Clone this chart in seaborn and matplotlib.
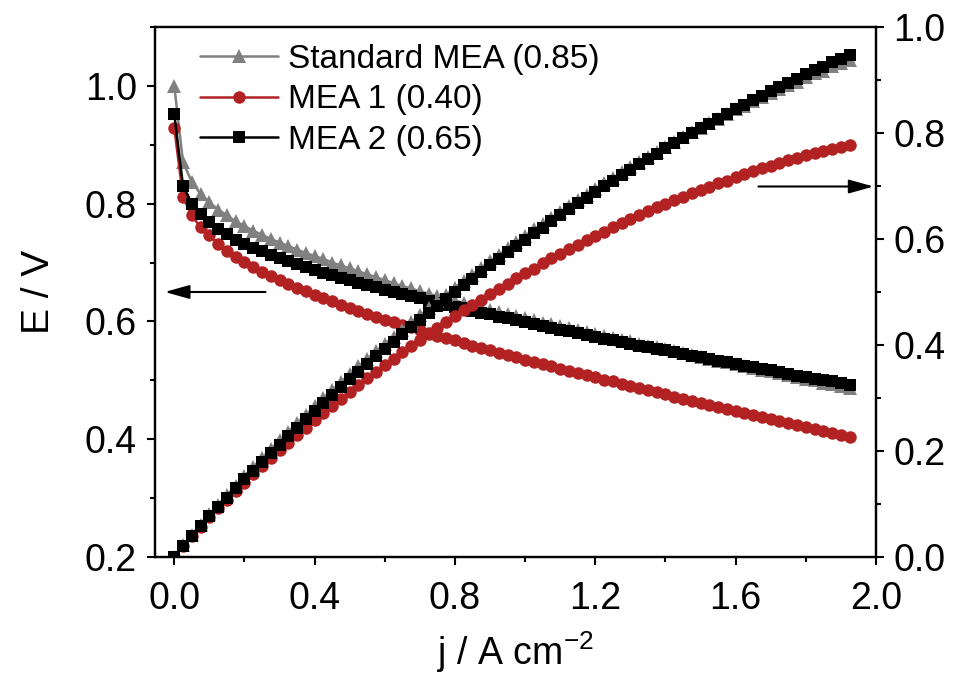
import matplotlib
matplotlib.use("Agg")
import matplotlib.pyplot as plt
from matplotlib.ticker import MultipleLocator
import pandas as pd
import seaborn as sns

# Current density grid (A cm^-2)
current_density = [
    0.000, 0.025, 0.050, 0.075, 0.100, 0.125, 0.150, 0.175, 0.200, 0.225,
    0.250, 0.275, 0.300, 0.325, 0.350, 0.375, 0.400, 0.425, 0.450, 0.475,
    0.500, 0.525, 0.550, 0.575, 0.600, 0.625, 0.650, 0.675, 0.700, 0.725,
    0.750, 0.775, 0.800, 0.825, 0.850, 0.875, 0.900, 0.925, 0.950, 0.975,
    1.000, 1.025, 1.050, 1.075, 1.100, 1.125, 1.150, 1.175, 1.200, 1.225,
    1.250, 1.275, 1.300, 1.325, 1.350, 1.375, 1.400, 1.425, 1.450, 1.475,
    1.500, 1.525, 1.550, 1.575, 1.600, 1.625, 1.650, 1.675, 1.700, 1.725,
    1.750, 1.775, 1.800, 1.825, 1.850, 1.875, 1.900, 1.925,
]

# Cell voltage (V)
e_standard = [
    1.000, 0.870, 0.837, 0.816, 0.802, 0.790, 0.780, 0.770, 0.762, 0.754,
    0.747, 0.740, 0.734, 0.728, 0.722, 0.716, 0.711, 0.706, 0.700, 0.695,
    0.690, 0.685, 0.680, 0.675, 0.670, 0.665, 0.660, 0.656, 0.651, 0.647,
    0.643, 0.639, 0.635, 0.632, 0.627, 0.624, 0.620, 0.616, 0.613, 0.609,
    0.606, 0.603, 0.598, 0.595, 0.592, 0.589, 0.585, 0.582, 0.579, 0.576,
    0.572, 0.569, 0.566, 0.562, 0.559, 0.556, 0.553, 0.550, 0.547, 0.543,
    0.540, 0.537, 0.533, 0.531, 0.528, 0.524, 0.521, 0.518, 0.515, 0.512,
    0.509, 0.505, 0.503, 0.500, 0.496, 0.494, 0.491, 0.487,
]
e_mea1 = [
    0.929, 0.811, 0.780, 0.760, 0.746, 0.732, 0.720, 0.710, 0.701, 0.692,
    0.684, 0.677, 0.670, 0.663, 0.657, 0.651, 0.645, 0.639, 0.634, 0.628,
    0.623, 0.618, 0.613, 0.608, 0.603, 0.599, 0.594, 0.590, 0.585, 0.581,
    0.576, 0.572, 0.568, 0.564, 0.559, 0.555, 0.551, 0.547, 0.543, 0.539,
    0.535, 0.531, 0.528, 0.524, 0.520, 0.516, 0.512, 0.509, 0.505, 0.501,
    0.498, 0.494, 0.490, 0.487, 0.483, 0.480, 0.476, 0.472, 0.469, 0.465,
    0.462, 0.458, 0.455, 0.451, 0.448, 0.445, 0.441, 0.438, 0.434, 0.431,
    0.428, 0.424, 0.421, 0.418, 0.414, 0.411, 0.407, 0.404,
]
e_mea2 = [
    0.952, 0.830, 0.800, 0.782, 0.768, 0.757, 0.748, 0.739, 0.732, 0.725,
    0.719, 0.713, 0.707, 0.702, 0.697, 0.692, 0.687, 0.683, 0.678, 0.674,
    0.670, 0.666, 0.662, 0.658, 0.654, 0.650, 0.646, 0.643, 0.639, 0.635,
    0.632, 0.628, 0.625, 0.622, 0.618, 0.615, 0.612, 0.608, 0.605, 0.602,
    0.599, 0.596, 0.592, 0.589, 0.586, 0.583, 0.580, 0.577, 0.574, 0.571,
    0.568, 0.565, 0.562, 0.559, 0.556, 0.553, 0.551, 0.548, 0.545, 0.542,
    0.539, 0.536, 0.533, 0.531, 0.528, 0.525, 0.522, 0.519, 0.517, 0.514,
    0.511, 0.508, 0.506, 0.503, 0.500, 0.498, 0.495, 0.492,
]

sample_names = ["Standard MEA (0.85)", "MEA 1 (0.40)", "MEA 2 (0.65)"]
sample_colors = ["#808080", "#B22222", "#000000"]
sample_markers = ["^", "o", "s"]
marker_sizes = [10.5, 9.0, 8.4]

sns.set_theme(style="ticks")
plt.rcParams["font.family"] = ["Liberation Sans", "DejaVu Sans"]
plt.rcParams["mathtext.fontset"] = "custom"
plt.rcParams["mathtext.rm"] = "Liberation Sans"
plt.rcParams["mathtext.it"] = "Liberation Sans:italic"
plt.rcParams["mathtext.bf"] = "Liberation Sans:bold"
for key in ("text.color", "axes.labelcolor", "xtick.color", "ytick.color",
            "axes.edgecolor"):
    plt.rcParams[key] = "black"

frames = []
for name, volts in zip(sample_names, [e_standard, e_mea1, e_mea2]):
    df = pd.DataFrame({"j": current_density, "E": volts})
    df["P"] = df["j"] * df["E"]  # power density, W cm^-2
    df["sample"] = name
    frames.append(df)
data = pd.concat(frames, ignore_index=True)

fig = plt.figure(figsize=(9.56, 6.81), dpi=100)
ax = fig.add_axes([0.1621, 0.1821, 0.7542, 0.7783])
ax2 = ax.twinx()

for name, col, mk, ms in zip(sample_names, sample_colors, sample_markers, marker_sizes):
    sub = data[data["sample"] == name]
    sns.lineplot(data=sub, x="j", y="E", ax=ax, color=col, marker=mk,
                 markersize=ms, markeredgecolor=col, markeredgewidth=0,
                 linewidth=1.8, label=name, errorbar=None)
    sns.lineplot(data=sub, x="j", y="P", ax=ax2, color=col, marker=mk,
                 markersize=ms, markeredgecolor=col, markeredgewidth=0,
                 linewidth=1.8, legend=False, errorbar=None)

ax.set_xlim(-0.055, 2.0)
ax.set_ylim(0.2, 1.1)
ax2.set_ylim(0.0, 1.0)

ax.xaxis.set_major_locator(MultipleLocator(0.4))
ax.xaxis.set_minor_locator(MultipleLocator(0.2))
ax.yaxis.set_major_locator(MultipleLocator(0.2))
ax.yaxis.set_minor_locator(MultipleLocator(0.1))
ax2.yaxis.set_major_locator(MultipleLocator(0.2))
ax2.yaxis.set_minor_locator(MultipleLocator(0.1))
ax.xaxis.set_major_formatter(lambda v, p: f"{v:.1f}")
ax.yaxis.set_major_formatter(lambda v, p: f"{v:.1f}")
ax2.yaxis.set_major_formatter(lambda v, p: f"{v:.1f}")

for a in (ax, ax2):
    for sp in a.spines.values():
        sp.set_linewidth(1.6)
        sp.set_color("black")

ax.tick_params(axis="both", which="major", direction="out", length=6, width=1.5,
               labelsize=27, colors="black", top=False, right=False)
ax.tick_params(axis="both", which="minor", direction="out", length=3.5, width=1.5,
               top=False, right=False)
ax.tick_params(axis="x", which="major", pad=11)
ax.tick_params(axis="y", which="major", pad=7)
ax2.tick_params(axis="y", which="major", direction="out", length=6, width=1.5,
                labelsize=27, colors="black", pad=6.5)
ax2.tick_params(axis="y", which="minor", direction="out", length=3.5, width=1.5)

ax.set_xlabel(r"j / A cm$^{\mathregular{-2}}$", fontsize=27, labelpad=9)
ax.set_ylabel("E / V", fontsize=28, labelpad=20)
ax2.set_ylabel("")

ax.legend(loc="upper left", bbox_to_anchor=(0.062, 0.968), frameon=False,
          fontsize=24, borderpad=0, borderaxespad=0, labelspacing=0.28,
          handlelength=2.34, handletextpad=0.3, numpoints=1)

arrow_style = dict(arrowstyle="-|>,head_length=1.0,head_width=0.28",
                   color="black", lw=1.5, mutation_scale=15, shrinkA=0, shrinkB=0)
ax.annotate("", xy=(-0.027, 0.650), xytext=(0.26, 0.650), arrowprops=arrow_style)
ax2.annotate("", xy=(1.993, 0.699), xytext=(1.665, 0.699), arrowprops=arrow_style)

fig.savefig("out.png", dpi=100)
